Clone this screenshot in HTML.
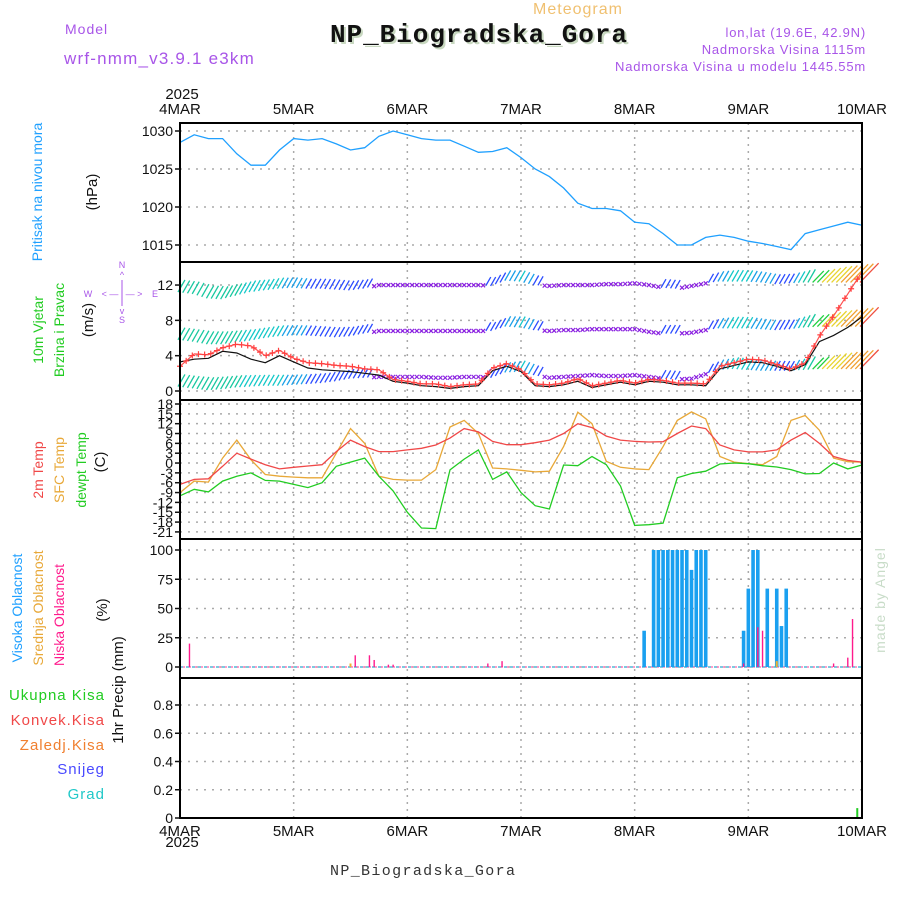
<!DOCTYPE html>
<html><head><meta charset="utf-8"><style>
html,body{margin:0;padding:0;background:#fff;}
svg{display:block;font-family:"Liberation Sans",sans-serif;}
</style></head><body>
<svg id="chart" width="900" height="900" viewBox="0 0 900 900" xmlns="http://www.w3.org/2000/svg">
<rect width="900" height="900" fill="#fff"/>
<text x="578" y="14" font-size="16" fill="#f0c070" text-anchor="middle" letter-spacing="1">Meteogram</text>
<text x="65" y="34" font-size="14" fill="#a855e8" letter-spacing="1">Model</text>
<text x="64" y="64" font-size="17" fill="#a855e8" letter-spacing="1.2">wrf-nmm_v3.9.1 e3km</text>
<text x="332" y="44" font-size="26" font-weight="bold" fill="#c8d8c0" font-family="Liberation Mono, monospace" textLength="297">NP_Biogradska_Gora</text>
<text x="330" y="42" font-size="26" font-weight="bold" fill="#111" font-family="Liberation Mono, monospace" textLength="297">NP_Biogradska_Gora</text>
<text x="866" y="37" font-size="13" fill="#a855e8" text-anchor="end" letter-spacing="0.8">lon,lat (19.6E, 42.9N)</text>
<text x="866" y="54" font-size="13" fill="#a855e8" text-anchor="end" letter-spacing="0.8">Nadmorska Visina 1115m</text>
<text x="866" y="71" font-size="13" fill="#a855e8" text-anchor="end" letter-spacing="0.8">Nadmorska Visina u modelu 1445.55m</text>

<g font-size="15" fill="#111">
<text x="182" y="99" text-anchor="middle">2025</text>
<text x="182" y="847" text-anchor="middle">2025</text>
</g>
<g id="xlabels"></g>

<!-- Left titles -->
<g font-size="14">
<text transform="translate(42,192) rotate(-90)" text-anchor="middle" fill="#1fa0ff">Pritisak na nivou mora</text>
<text transform="translate(97,192) rotate(-90)" text-anchor="middle" fill="#111" font-size="15">(hPa)</text>
<text transform="translate(43,330) rotate(-90)" text-anchor="middle" fill="#22cc22">10m Vjetar</text>
<text transform="translate(64,330) rotate(-90)" text-anchor="middle" fill="#22cc22">Brzina i Pravac</text>
<text transform="translate(93,320) rotate(-90)" text-anchor="middle" fill="#111" font-size="15">(m/s)</text>
<text transform="translate(43,470) rotate(-90)" text-anchor="middle" fill="#f04848">2m Temp</text>
<text transform="translate(64,470) rotate(-90)" text-anchor="middle" fill="#e8a838">SFC Temp</text>
<text transform="translate(86,470) rotate(-90)" text-anchor="middle" fill="#22cc22">dewpt Temp</text>
<text transform="translate(105,462) rotate(-90)" text-anchor="middle" fill="#111" font-size="15">(C)</text>
<text transform="translate(22,608) rotate(-90)" text-anchor="middle" fill="#1fa0ff">Visoka Oblacnost</text>
<text transform="translate(43,608) rotate(-90)" text-anchor="middle" fill="#e8a838">Srednja Oblacnost</text>
<text transform="translate(64,615) rotate(-90)" text-anchor="middle" fill="#ff1a8c">Niska Oblacnost</text>
<text transform="translate(107,610) rotate(-90)" text-anchor="middle" fill="#111" font-size="15">(%)</text>
<text transform="translate(123,690) rotate(-90)" text-anchor="middle" fill="#111" font-size="15">1hr Precip (mm)</text>
</g>
<g font-size="15" text-anchor="end" letter-spacing="1">
<text x="105" y="700" fill="#22cc22">Ukupna  Kisa</text>
<text x="105" y="725" fill="#f04848">Konvek.Kisa</text>
<text x="105" y="750" fill="#f08030">Zaledj.Kisa</text>
<text x="105" y="774" fill="#4a4aff">Snijeg</text>
<text x="105" y="799" fill="#20c8c8">Grad</text>
</g>
<!-- compass -->
<g fill="#a855e8" font-size="9">
<text x="122" y="268" text-anchor="middle">N</text>
<text x="122" y="278" text-anchor="middle">^</text>
<text x="122" y="323" text-anchor="middle">S</text>
<text x="122" y="314" text-anchor="middle">v</text>
<text x="88" y="297" text-anchor="middle">W</text>
<text x="155" y="297" text-anchor="middle">E</text>
<text x="122" y="297" text-anchor="middle">&lt; — | — &gt;</text>
<line x1="122" y1="280" x2="122" y2="306" stroke="#a855e8" stroke-width="1"/>
</g>
<text transform="translate(885,600) rotate(-90)" text-anchor="middle" fill="#c8dcc8" font-size="14" letter-spacing="1">made by Angel</text>
<text x="330" y="875" font-size="15" fill="#333" font-family="Liberation Mono, monospace" textLength="185">NP_Biogradska_Gora</text>

<g id="grid"></g>
<g id="marks"></g>
<g id="frames"></g>
<g id="yticks" font-size="14" fill="#111"></g>
</svg>
<script>
// ---- data (3-hourly, 49 steps from 4MAR 00 to 10MAR 00) ----
const dayLabels = ["4MAR","5MAR","6MAR","7MAR","8MAR","9MAR","10MAR"];
const pressure = [1028.5,1029.5,1029,1029,1027,1025.5,1025.5,1027.5,1029,1028.8,1029,1028.3,1027.5,1027.8,1029.3,1030,1029.5,1029,1028.8,1028.8,1028,1027.2,1027.3,1027.8,1026.5,1025,1024,1022.5,1020.5,1019.8,1019.8,1019.5,1018,1017.8,1016.5,1015,1015,1016,1016.3,1016,1015.5,1015.2,1014.8,1014.4,1016.5,1017,1017.5,1018,1017.6];
const windSpeed = [2.8,4.2,4.1,4.9,5.3,5.1,4.0,4.6,3.7,3.2,3.1,2.9,2.8,2.5,2.4,1.3,1.1,0.8,0.8,0.5,0.7,0.8,2.6,3.1,2.4,0.8,0.7,0.9,1.4,0.6,0.9,1.2,0.9,1.3,1.2,0.9,0.9,0.8,2.8,3.2,3.6,3.5,3.0,2.5,3.2,6.2,8.5,11,13.5];
const windGust = [3.3,3.6,3.7,4.5,4.3,3.6,3.2,4.0,3.3,2.6,2.4,2.3,2.2,2.0,1.8,1.1,0.9,0.6,0.5,0.3,0.5,0.6,2.3,2.8,2.2,0.6,0.5,0.7,1.1,0.4,0.7,1.0,0.7,1.1,1.0,0.7,0.7,0.6,2.5,2.9,3.3,3.2,2.8,2.3,3.0,5.6,6.3,7.2,8.4];
const barbRowTop = [11.2,11,10.5,10.4,10.8,11.2,11.4,11.6,11.7,11.6,11.6,11.5,11.4,11.6,12,12,12,12,12,12,12,12,11.9,12.5,12.4,12,11.9,12,12,12,12.1,12.1,12.2,12,11.7,11.6,11.9,12.2,12.4,12.4,12.4,12.3,12.1,12.2,12.3,12.3,12.3,12.3,12.3];
const barbRowMid = [5.8,5.6,5.3,5.3,5.5,5.7,6,6.2,6.3,6.3,6.2,6.1,6.2,6.5,6.8,6.8,6.8,6.8,6.8,6.8,6.8,6.8,6.8,7.3,7.2,6.9,6.8,6.9,6.9,7,7,7,7,6.7,6.5,6.5,6.6,6.9,7.1,7.1,7.1,7,6.9,7,7.2,7.3,7.3,7.3,7.3];
const barbRowLow = [0.5,0.3,0.1,0.2,0.4,0.5,0.6,0.6,0.7,0.8,0.9,1.1,1.4,1.5,1.6,1.6,1.6,1.6,1.5,1.5,1.6,1.6,1.5,2.1,2.2,1.8,1.5,1.6,1.7,1.8,1.7,1.7,1.8,1.6,1.4,1.3,1.4,1.9,2.4,2.5,2.4,2.3,2.3,2.3,2.4,2.5,2.5,2.5,2.5];
const barbStrength = [4,4,4.5,4.5,4,3.5,3,3,2.5,2.2,2.2,2.2,2,1.8,0.8,0.8,0.8,0.8,0.8,0.8,0.8,0.8,1.5,2.5,3,2,0.8,0.8,0.8,0.8,0.8,0.8,0.8,0.8,1.2,1.2,0.8,1,2.5,3.5,3.2,2.5,2.2,2,4,6,9,11,12.5];
const temp2m = [-6.5,-5,-4.8,-1,3,1.2,-0.5,-1.8,-1.3,-0.9,-0.5,3.5,7,5,3.5,3.5,4,4.5,5.5,7.6,10.5,9.5,6.6,5.6,5.6,6.2,7,9,12,10.8,8.2,7,6.6,6.4,6.5,9,11.3,10.5,5.5,4,3.4,3.4,4,7,9.3,6,2,0.8,0.3];
const tempSfc = [-9,-5.5,-5.8,1.5,7,1,-3.5,-4,-4.3,-4.5,-4.5,3,10.5,6,-4,-5,-5.2,-5.2,-2,11,13,9,-1.5,-1.8,-2.2,-2.7,-2.5,5,15.5,12,0.5,-1.3,-1.8,-2,5,13,15.6,13.5,2,0.3,-0.2,-0.5,2,13,14.5,10,1.5,0.4,0.3];
const tempDew = [-10,-8,-8.8,-5.5,-4,-3,-5.3,-5.5,-6.5,-7.5,-6,-1,0.3,1.5,-4,-8.5,-15,-19.8,-20,-2.1,1.2,4,-5,-2.7,-9,-13,-14,-0.6,-0.8,2,-0.5,-7,-19,-18.8,-18.3,-4.5,-3.2,-2.5,-0.3,0,-0.2,-0.8,-1.2,-2,-3.3,-3.2,0,-1.8,-0.6];
const highHours = [98,100,101,102,103,104,105,106,107,108,109,110,111,119,120,121,122,124,126,127,128];
const highVals  = [31,100,100,100,100,100,100,100,100,83,100,100,100,31,67,100,100,67,67,35,67];
const midHours = [36,126];
const midVals  = [3,5];
const lowHours = [2,37,40,41,44,45,65,68,119,122,123,138,141,142];
const lowVals  = [20,10,10,6,2,2,3,5,3,34,31,3,8,41];
const precipHours = [143];
const precipVals = [0.07];
const pressTicks = [1015,1020,1025,1030];
const windTicks = [0,4,8,12];
const tempTicks = [18,15,12,9,6,3,0,-3,-6,-9,-12,-15,-18,-21];
const cloudTicks = [0,25,50,75,100];
const precipTicks = [0,0.2,0.4,0.6,0.8];

// ---- axes ----
const X0=180, X1=862, HOURS=144;
const xh = h => X0 + h*(X1-X0)/HOURS;
const yP = v => 131 + (1030-v)*7.6;
const yW = v => 391 - v*8.83;
const yT = v => 404 + (18-v)*3.28;
const yC = v => 667 - v*1.17;
const yR = v => 818 - v*141.25;
const panels = [[123,262],[262,400],[400,539],[539,678],[678,818]];
const NS='http://www.w3.org/2000/svg';
function mk(tag, attrs, parent){const e=document.createElementNS(NS,tag);for(const k in attrs)e.setAttribute(k,attrs[k]);parent.appendChild(e);return e;}
const grid=document.getElementById('grid'), marks=document.getElementById('marks'), frames=document.getElementById('frames'), yt=document.getElementById('yticks'), xl=document.getElementById('xlabels');
function interp(arr,h){const i=h/3, a=Math.floor(i), b=Math.min(a+1,arr.length-1), f=i-a;return arr[a]*(1-f)+arr[b]*f;}

// day grid + labels
dayLabels.forEach((d,i)=>{
  const x=xh(i*24);
  if(i>0&&i<6){const g=mk('line',{x1:x,x2:x,y1:123,y2:818,stroke:'#aaa','stroke-dasharray':'2,5','stroke-width':1.5},grid);
    
    }
  const t1=mk('text',{x:x,y:114,'text-anchor':'middle','font-size':15,fill:'#111'},xl);t1.textContent=d;
  
  
  const t2=mk('text',{x:x,y:836,'text-anchor':'middle','font-size':15,fill:'#111'},xl);t2.textContent=d;
  
  
});
function yTicks(ticks,fy,fmt){ticks.forEach(v=>{const y=fy(v);
  const g=mk('line',{x1:X0,x2:X1,y1:y,y2:y,stroke:'#aaa','stroke-dasharray':'2,6','stroke-width':1.5},grid);
  
  
  mk('line',{x1:175,x2:X0,y1:y,y2:y,stroke:'#111','stroke-width':1.5},yt);
  const t=mk('text',{x:173,y:y+5,'text-anchor':'end'},yt);t.textContent=fmt?fmt(v):v;
  
  });}
yTicks(pressTicks,yP);yTicks(windTicks,yW);yTicks(tempTicks,yT);yTicks(cloudTicks,yC);yTicks(precipTicks,yR,v=>v===0?'0':v.toFixed(1));

function line(arr,fy,color,name,w){let d='';arr.forEach((v,i)=>{d+=(i?'L':'M')+xh(i*3).toFixed(1)+','+fy(v).toFixed(1);});
  const p=mk('path',{d:d,fill:'none',stroke:color,'stroke-width':w||1.3},marks);
  
  }
line(pressure,yP,'#1fa0ff','pressure-line');

// wind barbs
function barbColor(s){if(s<1.2)return'#8a20e0';if(s<2.3)return'#2b4cff';if(s<3)return'#1aa0e8';if(s<4)return'#14c8c8';if(s<5)return'#18c8a0';if(s<7)return'#20d040';if(s<10)return'#e8d430';if(s<12)return'#f0a030';return'#f05040';}
const bg=mk('g',{},marks);


[barbRowTop,barbRowMid,barbRowLow].forEach(row=>{
  for(let h=0;h<=HOURS;h++){const s=interp(barbStrength,h), b=interp(row,h), x=xh(h), y=yW(b), c=barbColor(s);
    if(s<1.2){mk('path',{d:`M${x-2},${y+2}L${x+2},${y-2}M${x-2},${y-2}L${x+2},${y+2}`,stroke:c,'stroke-width':1.2},bg);}
    else{const L=8+s*1.5, ang=s>5?0.8:1.05; const y2=Math.max(262,y-L*Math.sin(ang));
      mk('line',{x1:x-2,y1:y,x2:x-2+(y-y2)/Math.tan(ang),y2:y2,stroke:c,'stroke-width':1.3},bg);}
  }});
line(windGust,yW,'#111','wind-gust-line',1.2);
line(windSpeed,yW,'#ff5050','wind-speed-line',1.2);
const mg=mk('g',{stroke:'#ff4040','stroke-width':1.2},marks);


for(let h=0;h<=HOURS;h+=1.3){const x=xh(h),y=yW(interp(windSpeed,h));mk('path',{d:`M${x-3},${y}L${x+3},${y}M${x},${y-3}L${x},${y+3}`},mg);}

// temps
line(tempSfc,yT,'#e8a838','sfc-temp-line');
line(temp2m,yT,'#f04848','temp-2m-line');
line(tempDew,yT,'#22cc22','dewpoint-line');

// clouds
mk('line',{x1:X0,x2:X1,y1:667,y2:667,stroke:'#7ec8e0','stroke-width':2,'stroke-dasharray':'3,3'},marks);
mk('line',{x1:X0+3,x2:X1,y1:667,y2:667,stroke:'#ff7ab8','stroke-width':1.5,'stroke-dasharray':'2,4'},marks);
highHours.forEach((h,i)=>{const r=mk('rect',{x:xh(h)-1.8,y:yC(highVals[i]),width:3.6,height:667-yC(highVals[i]),fill:'#1aa0f0'},marks);
  
  });
midHours.forEach((h,i)=>{const r=mk('rect',{x:xh(h)-1,y:yC(midVals[i]),width:2,height:667-yC(midVals[i]),fill:'#f0b030'},marks);
  
  });
lowHours.forEach((h,i)=>{const r=mk('rect',{x:xh(h)-0.7,y:yC(lowVals[i]),width:1.4,height:667-yC(lowVals[i]),fill:'#ff1a8c'},marks);
  
  });
precipHours.forEach((h,i)=>{const r=mk('rect',{x:xh(h)-1,y:yR(precipVals[i]),width:2,height:818-yR(precipVals[i]),fill:'#22cc22'},marks);
  
  });

// frames
panels.forEach(p=>{const r=mk('rect',{x:X0,y:p[0],width:X1-X0,height:p[1]-p[0],fill:'none',stroke:'#000','stroke-width':2},frames);
  
  });
</script>
</body></html>
